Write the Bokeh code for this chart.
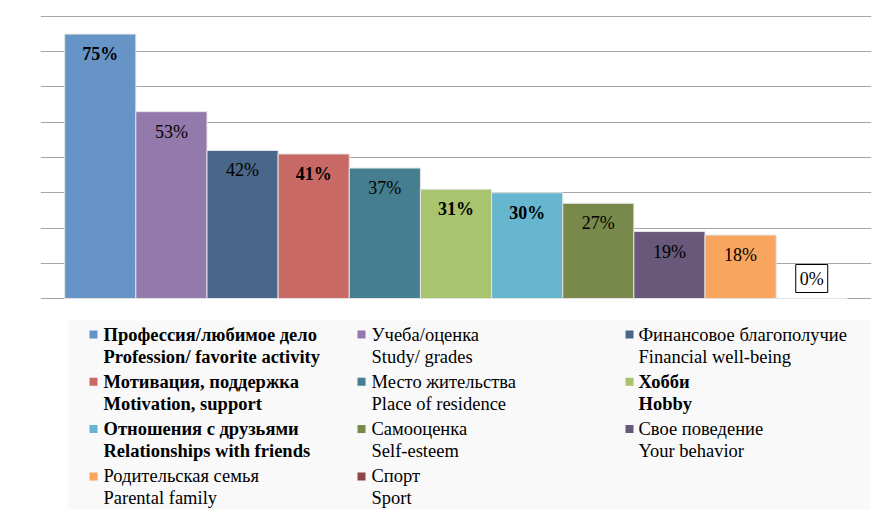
from bokeh.plotting import figure
from bokeh.layouts import column
from bokeh.models import Range1d, FixedTicker, ColumnDataSource
from bokeh.core.properties import value
from bokeh.embed import file_html
from bokeh.resources import INLINE

# ---- data ----
names_ru = ["Профессия/любимое дело", "Учеба/оценка", "Финансовое благополучие",
            "Мотивация, поддержка", "Место жительства", "Хобби",
            "Отношения с друзьями", "Самооценка", "Свое поведение",
            "Родительская семья", "Спорт"]
names_en = ["Profession/ favorite activity", "Study/ grades", "Financial well-being",
            "Motivation, support", "Place of residence", "Hobby",
            "Relationships with friends", "Self-esteem", "Your behavior",
            "Parental family", "Sport"]
values = [75, 53, 42, 41, 37, 31, 30, 27, 19, 18, 0]
bold = [True, False, False, True, False, True, True, False, False, False, False]
colors = ["#6794C7", "#9479AD", "#4A6789", "#C96966", "#457E8E", "#A9C46F",
          "#66B6CF", "#78894B", "#685879", "#F7A55F", "#8C4444"]
y_ticks = [0, 10, 20, 30, 40, 50, 60, 70, 80]

FONT = value("'Liberation Serif', 'Times New Roman', serif")
n = len(values)
idx = list(range(n))

# ---- bar chart ----
p = figure(width=877, height=305, output_backend="svg", toolbar_location=None,
           x_range=Range1d(-0.84, n - 1 + 0.84), y_range=Range1d(-0.28, 80.28),
           x_axis_location=None, y_axis_location=None,
           min_border_left=40, min_border_right=6, min_border_top=15, min_border_bottom=6)
p.outline_line_color = None
p.xgrid.grid_line_color = None
p.ygrid.ticker = FixedTicker(ticks=y_ticks)
p.ygrid.grid_line_color = "#a6a6a6"
p.ygrid.grid_line_width = 1
p.background_fill_color = "white"

src = ColumnDataSource(dict(x=idx, top=values, color=colors))
p.vbar(x="x", top="top", width=1.0, fill_color="color", line_color="#e4e4e4",
       line_width=1, source=src)

lab_b = dict(x=[], y=[], t=[])
lab_n = dict(x=[], y=[], t=[])
lab_z = dict(x=[], y=[], t=[])
for i, v in enumerate(values):
    d = lab_z if v == 0 else (lab_b if bold[i] else lab_n)
    d["x"].append(i); d["y"].append(v); d["t"].append(f"{v}%")

p.text(x="x", y="y", text="t", source=ColumnDataSource(lab_b), text_align="center",
       text_baseline="middle", y_offset=20, text_font=FONT,
       text_font_size="18px", text_font_style="bold", text_color="black")
p.text(x="x", y="y", text="t", source=ColumnDataSource(lab_n), text_align="center",
       text_baseline="middle", y_offset=20, text_font=FONT,
       text_font_size="18px", text_color="black")
p.text(x="x", y="y", text="t", source=ColumnDataSource(lab_z), text_align="center",
       text_baseline="middle", y_offset=-20, text_font=FONT,
       text_font_size="18px", text_color="black",
       border_line_color="black", border_line_width=1,
       background_fill_color="white", padding=4)

# ---- legend panel (frame aligned with the chart frame; page-pixel coordinates) ----
lg = figure(width=877, height=216, output_backend="svg", toolbar_location=None,
            x_range=Range1d(40, 871), y_range=Range1d(521, 305),
            x_axis_location=None, y_axis_location=None,
            min_border_left=40, min_border_right=6, min_border_top=0, min_border_bottom=0)
lg.outline_line_color = None
lg.grid.visible = False
lg.quad(left=[67], right=[870], top=[320], bottom=[509], fill_color="#f9f9f9",
        line_color=None)

col_marker = [93, 361, 629]
col_text = [103, 371, 638]
row0, row_step, line_gap = 334, 47.3, 22

mk = dict(x=[], y=[], c=[])
l1b = dict(x=[], y=[], t=[]); l1n = dict(x=[], y=[], t=[])
l2b = dict(x=[], y=[], t=[]); l2n = dict(x=[], y=[], t=[])
for i in idx:
    r, c = divmod(i, 3)
    yc = row0 + r * row_step
    mk["x"].append(col_marker[c]); mk["y"].append(yc); mk["c"].append(colors[i])
    a = l1b if bold[i] else l1n
    b = l2b if bold[i] else l2n
    a["x"].append(col_text[c]); a["y"].append(yc); a["t"].append(names_ru[i])
    b["x"].append(col_text[c]); b["y"].append(yc + line_gap); b["t"].append(names_en[i])

lg.scatter(x="x", y="y", color="c", marker="square", size=8, line_color=None,
           source=ColumnDataSource(mk))
for d, style in [(l1b, "bold"), (l2b, "bold"), (l1n, "normal"), (l2n, "normal")]:
    lg.text(x="x", y="y", text="t", source=ColumnDataSource(d), text_align="left",
            text_baseline="middle", text_font=FONT, text_font_size="18.5px",
            text_font_style=style, text_color="black")

layout = column(p, lg, spacing=0)
open("out.html", "w").write(file_html(layout, INLINE))
